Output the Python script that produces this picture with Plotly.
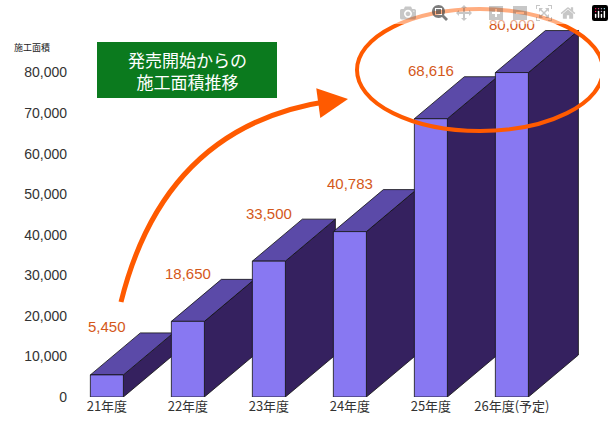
import plotly.graph_objects as go

categories = ["21年度", "22年度", "23年度", "24年度", "25年度", "26年度(予定)"]
values = [5450, 18650, 33500, 40783, 68616, 80000]
value_labels = ["5,450", "18,650", "33,500", "40,783", "68,616", "80,000"]
y_ticks = [0, 10000, 20000, 30000, 40000, 50000, 60000, 70000, 80000]
y_tick_labels = ["0", "10,000", "20,000", "30,000", "40,000", "50,000", "60,000", "70,000", "80,000"]

W, H = 614, 427
L, R, T, B = 68, 14, 0, 30
PER_PX = 90000 / 365
YMAX = (H - T - B) * PER_PX
X0, X1 = -0.48, (W - L - R) / 81 - 0.48
def X(px): return X0 + (px - L) / 81
def Y(py): return (H - B - py) * PER_PX
def PX(px): return (px - L) / (W - L - R)
def PY(py): return (H - B - py) / (H - T - B)

hw = 0.204
dx = 50 / 81
dy = 42 * PER_PX

front_c, top_c, side_c = "#8878f2", "#5b4aa8", "#35215f"
fig = go.Figure()
for i, v in enumerate(values):
    a, b = i - hw, i + hw
    polys = [
        ([b, b + dx, b + dx, b, b], [0, dy, v + dy, v, 0], side_c),
        ([a, b, b + dx, a + dx, a], [v, v, v + dy, v + dy, v], top_c),
        ([a, b, b, a, a], [0, 0, v, v, 0], front_c),
    ]
    for xs, ys, c in polys:
        fig.add_trace(go.Scatter(x=xs, y=ys, fill="toself", fillcolor=c, mode="lines",
                                 line=dict(color="#111", width=0.8), hoverinfo="skip", showlegend=False))
    fig.add_annotation(x=i, y=v + dy + 1500, text=value_labels[i], showarrow=False,
                       font=dict(size=15, color="#d4581a", family="Liberation Sans"))

# ellipse
fig.add_shape(type="circle", xref="x", yref="y", x0=X(357), x1=X(603), y0=Y(131), y1=Y(9),
              line=dict(color="#ff5a00", width=4))
# curved arrow
fig.add_shape(type="path", xref="x", yref="y",
              path=f"M {X(121)},{Y(302)} Q {X(165)},{Y(125)} {X(330)},{Y(101)}",
              line=dict(color="#ff5a00", width=5))
fig.add_annotation(x=X(348), y=Y(99), ax=X(326), ay=Y(102), xref="x", yref="y", axref="x", ayref="y",
                   showarrow=True, arrowhead=2, arrowsize=1.2, arrowwidth=5, arrowcolor="#ff5a00", text="")
# green box
fig.add_shape(type="rect", xref="x", yref="y", x0=X(97), x1=X(277), y0=Y(98), y1=Y(42),
              fillcolor="#0b7a1e", line=dict(width=0))
fig.add_annotation(x=X(187), y=Y(70), xref="x", yref="y", text="発売開始からの<br>施工面積推移",
                   showarrow=False, font=dict(size=17, color="white", family="Noto Sans CJK JP"))
fig.add_annotation(x=PX(12), y=PY(47), xref="paper", yref="paper", yanchor="middle", xanchor="left",
                   text="施工面積", showarrow=False, font=dict(size=9, color="#222", family="Noto Sans CJK JP"))

fig.update_layout(width=W, height=H, margin=dict(l=L, r=R, t=T, b=B, pad=0),
                  plot_bgcolor="white", paper_bgcolor="white",
                  xaxis=dict(range=[X0, X1], tickvals=list(range(len(categories))), ticktext=categories,
                             showgrid=False, zeroline=False, showline=False, ticks="",
                             tickfont=dict(size=13, color="#333", family="Noto Sans CJK JP")),
                  yaxis=dict(range=[0, YMAX], tickvals=y_ticks, ticktext=y_tick_labels,
                             showgrid=False, zeroline=False, showline=False, ticks="",
                             tickfont=dict(size=14, color="#333", family="Liberation Sans")))
fig.write_html("out.html", post_script="document.body.style.margin='0';")
